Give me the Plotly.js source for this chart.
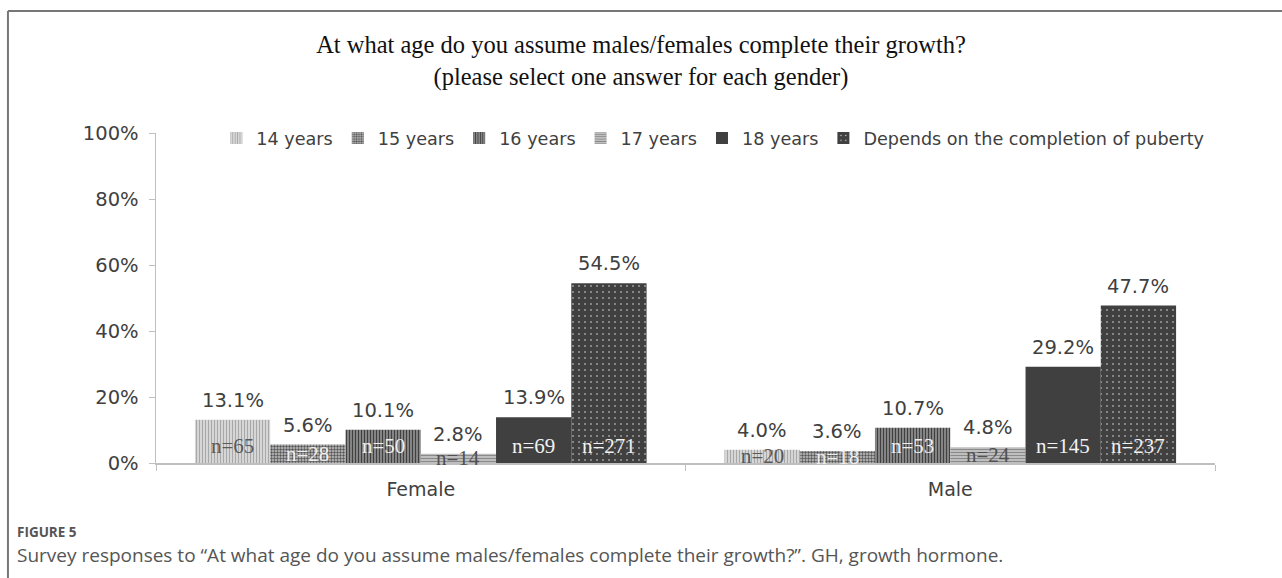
<!DOCTYPE html>
<html>
<head>
<meta charset="utf-8">
<script src="https://cdn.plot.ly/plotly-3.0.1.min.js"></script>
<style>
html,body{margin:0;padding:0;background:#fff;}
#chart{width:1282px;height:578px;}
</style>
</head>
<body>
<div id="chart"></div>
<script>
const categories = ['Female', 'Male'];
const seriesNames = ['14 years', '15 years', '16 years', '17 years', '18 years', 'Depends on the completion of puberty'];
const pctFemale = [13.1, 5.6, 10.1, 2.8, 13.9, 54.5];
const pctMale = [4.0, 3.6, 10.7, 4.8, 29.2, 47.7];
const nFemale = [65, 28, 50, 14, 69, 271];
const nMale = [20, 18, 53, 24, 145, 237];
const yTickVals = [0, 20, 40, 60, 80, 100];
const yTickText = ['0%', '20%', '40%', '60%', '80%', '100%'];

const patterns = [
  {shape: '|', fgcolor: '#a8a8a8', bgcolor: '#e6e6e6', size: 3, solidity: 0.5},
  {shape: '.', fgcolor: '#555555', bgcolor: '#c4c4c4', size: 3, solidity: 0.5},
  {shape: '|', fgcolor: '#404040', bgcolor: '#9a9a9a', size: 3, solidity: 0.5},
  {shape: '-', fgcolor: '#8a8a8a', bgcolor: '#cfcfcf', size: 3, solidity: 0.5},
  null,
  {shape: '.', fgcolor: '#e0e0e0', bgcolor: '#404040', size: 6, solidity: 0.06}
];
const baseColors = ['#c8c8c8', '#8a8a8a', '#6a6a6a', '#aaaaaa', '#404040', '#404040'];
const nTextColors = ['#5a5a5a', '#eeeeee', '#eeeeee', '#505050', '#f2f2f2', '#f2f2f2'];

const bargap = 0.147;
const sansFont = 'DejaVu Sans, sans-serif';
const serifFont = 'Liberation Serif, Times New Roman, serif';

const traces = seriesNames.map((name, i) => {
  const vals = [pctFemale[i], pctMale[i]];
  const marker = {color: baseColors[i], line: {width: 0}};
  if (patterns[i]) marker.pattern = Object.assign({fillmode: 'replace'}, patterns[i]);
  return {
    type: 'bar',
    name: name,
    x: categories,
    y: vals,
    marker: marker,
    hoverinfo: 'skip'
  };
});

const bw = (1 - bargap) / seriesNames.length;
const annotations = [];
seriesNames.forEach((name, i) => {
  [pctFemale[i], pctMale[i]].forEach((v, c) => {
    const n = c === 0 ? nFemale[i] : nMale[i];
    const xpos = c + (i - (seriesNames.length - 1) / 2) * bw;
    annotations.push({
      x: xpos, y: v, xref: 'x', yref: 'y',
      text: v.toFixed(1) + '%',
      showarrow: false, xanchor: 'center', yanchor: 'bottom', yshift: 6,
      font: {family: sansFont, size: 19.5, color: '#404040'}
    });
    annotations.push({
      x: xpos,
      y: Math.min(v / 2, 5.2),
      xref: 'x', yref: 'y',
      text: 'n=' + n,
      showarrow: false,
      xanchor: 'center', yanchor: 'middle',
      font: {family: serifFont, size: 21, color: nTextColors[i]}
    });
  });
});

annotations.push({
  xref: 'paper', yref: 'paper', x: -0.133, y: -0.208,
  xanchor: 'left', yanchor: 'middle', showarrow: false,
  text: '<b>FIGURE 5</b>',
  font: {family: 'Open Sans, sans-serif', size: 13.5, color: '#555555'}
});
annotations.push({
  xref: 'paper', yref: 'paper', x: -0.133, y: -0.28,
  xanchor: 'left', yanchor: 'middle', showarrow: false,
  text: 'Survey responses to \u201cAt what age do you assume males/females complete their growth?\u201d. GH, growth hormone.',
  font: {family: 'Open Sans, sans-serif', size: 19, color: '#555555'}
});

const layout = {
  width: 1282, height: 578,
  margin: {l: 156, r: 67, t: 133, b: 115},
  paper_bgcolor: '#ffffff', plot_bgcolor: '#ffffff',
  barmode: 'group', bargap: bargap, bargroupgap: 0,
  showlegend: true,
  title: {
    text: 'At what age do you assume males/females complete their growth?<br>(please select one answer for each gender)',
    x: 0.5, xref: 'container', xanchor: 'center',
    y: 0.908, yref: 'container', yanchor: 'middle',
    font: {family: serifFont, size: 24.5, color: '#111111'}
  },
  legend: {
    orientation: 'h', x: 0.057, xanchor: 'left', y: 0.985, yanchor: 'middle',
    font: {family: sansFont, size: 17.6, color: '#404040'},
    itemwidth: 30,
    traceorder: 'normal', bgcolor: 'rgba(0,0,0,0)'
  },
  xaxis: {
    type: 'category', showgrid: false, zeroline: false,
    showline: true, linecolor: '#bfbfbf', linewidth: 1.5,
    ticks: 'outside', tickson: 'boundaries', ticklen: 6, tickcolor: '#bfbfbf',
    ticklabelstandoff: 9,
    tickfont: {family: sansFont, size: 19, color: '#404040'}
  },
  yaxis: {
    range: [0, 100], tickvals: yTickVals, ticktext: yTickText,
    showgrid: false, zeroline: false,
    showline: true, linecolor: '#bfbfbf', linewidth: 1.5,
    ticks: 'outside', ticklen: 6, tickcolor: '#bfbfbf',
    ticklabelstandoff: 6,
    tickfont: {family: sansFont, size: 19.5, color: '#404040'}
  },
  annotations: annotations,
  shapes: [
    {type: 'line', xref: 'paper', yref: 'paper', x0: -0.1398, x1: 1.07, y0: (578-115-11)/330, y1: (578-115-11)/330, line: {color: '#777777', width: 2}},
    {type: 'line', xref: 'paper', yref: 'paper', x0: -0.1398, x1: -0.1398, y0: (578-115-11)/330, y1: -0.36, line: {color: '#777777', width: 2}}
  ]
};

Plotly.newPlot('chart', traces, layout, {displayModeBar: false, staticPlot: true});
</script>
</body>
</html>
